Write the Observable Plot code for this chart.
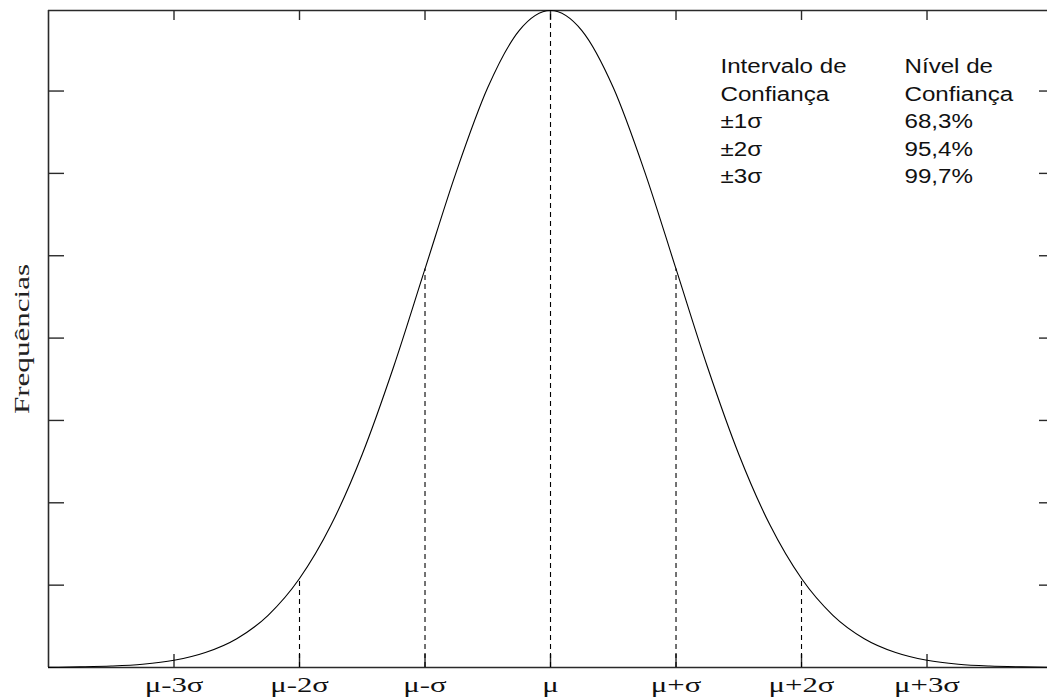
<!DOCTYPE html>
<html><head><meta charset="utf-8">
<script src="https://cdn.jsdelivr.net/npm/d3@7"></script>
<script src="https://cdn.jsdelivr.net/npm/@observablehq/plot@0.6"></script>
<style>html,body{margin:0;padding:0;background:#fff;overflow:hidden}</style>
</head><body><div id="chart"></div>
<script>
// Data (x in σ units from μ; y = frequency density)
const desvios = [-4, -3.75, -3.5, -3.25, -3, -2.75, -2.5, -2.25, -2, -1.75, -1.5, -1.25, -1, -0.75, -0.5, -0.25, 0,
                 0.25, 0.5, 0.75, 1, 1.25, 1.5, 1.75, 2, 2.25, 2.5, 2.75, 3, 3.25, 3.5, 3.75, 4];
const frequencias = [0.0001, 0.0004, 0.0009, 0.0020, 0.0044, 0.0091, 0.0175, 0.0317, 0.0540, 0.0863, 0.1295, 0.1826, 0.2420, 0.3011, 0.3521, 0.3867, 0.3989,
                     0.3867, 0.3521, 0.3011, 0.2420, 0.1826, 0.1295, 0.0863, 0.0540, 0.0317, 0.0175, 0.0091, 0.0044, 0.0020, 0.0009, 0.0004, 0.0001];
const xTicks = [-3, -2, -1, 0, 1, 2, 3];
const xTickLabels = ["μ-3σ", "μ-2σ", "μ-σ", "μ", "μ+σ", "μ+2σ", "μ+3σ"];
const yTicks = [0.05, 0.10, 0.15, 0.20, 0.25, 0.30, 0.35];
const linhasTracejadas = [-2, -1, 0, 1, 2];
const tituloY = "Frequências";
const cabecalhoIntervalo = ["Intervalo de", "Confiança"];
const cabecalhoNivel = ["Nível de", "Confiança"];
const intervalos = ["±1σ", "±2σ", "±3σ"];
const niveis = ["68,3%", "95,4%", "99,7%"];

const W = 1047, H = 700, mL = 48, mR = 0, mT = 10, mB = 33;
const frameW = W - mL - mR, frameH = H - mT - mB;
const yMax = d3.max(frequencias);
const pontos = desvios.map((x, i) => ({x, y: frequencias[i]}));
const alturaEm = (x) => frequencias[desvios.indexOf(x)];

const axisColor = "#2a2a2a";
const serif = "'Liberation Serif', 'Times New Roman', serif";
const sans = "'Liberation Sans', Arial, sans-serif";

const textoIntervalo = [...cabecalhoIntervalo, ...intervalos].join("\n");
const textoNivel = [...cabecalhoNivel, ...niveis].join("\n");

const svg = Plot.plot({
  width: W, height: H,
  marginLeft: mL, marginRight: mR, marginTop: mT, marginBottom: mB,
  style: {background: "#fff", overflow: "visible"},
  x: {domain: [-4, 3.96], axis: null},
  y: {domain: [0, yMax], axis: null},
  marks: [
    // frame lines
    Plot.ruleX([-4], {stroke: axisColor, strokeWidth: 1.6}),
    Plot.ruleY([0, yMax], {stroke: axisColor, strokeWidth: 1.6}),
    // inward ticks
    Plot.tickY(yTicks, {stroke: axisColor, strokeWidth: 1.4, insetRight: frameW - 16}),
    Plot.tickY(yTicks, {stroke: axisColor, strokeWidth: 1.4, insetLeft: frameW - 8}),
    Plot.tickX(xTicks, {stroke: axisColor, strokeWidth: 1.4, insetTop: frameH - 13}),
    Plot.tickX(xTicks, {stroke: axisColor, strokeWidth: 1.4, insetBottom: frameH - 10}),
    // dashed verticals
    Plot.ruleX(linhasTracejadas, {x: d => d, y1: 0, y2: d => alturaEm(d), stroke: "#000", strokeWidth: 1.1, strokeDasharray: "5,4"}),
    // normal curve
    Plot.line(pontos, {x: "x", y: "y", curve: "monotone-x", stroke: "#000", strokeWidth: 1.1}),
    // x tick labels
    Plot.axisX({ticks: xTicks, tickFormat: d => xTickLabels[xTicks.indexOf(d)], tickSize: 0, tickPadding: 9,
                fontSize: 22, fontFamily: serif, fill: "#111", label: null}),
    // y label
    Plot.text([tituloY], {frameAnchor: "left", dx: -26, rotate: -90, textAnchor: "middle", lineAnchor: "middle",
              fontSize: 21, fontFamily: serif, fill: "#222"}),
    // table
    Plot.text([textoIntervalo], {frameAnchor: "top-left", dx: 672, dy: 43, lineAnchor: "top",
              textAnchor: "start", lineHeight: 1.31, fontSize: 21, fontFamily: sans, fill: "#111"}),
    Plot.text([textoNivel], {frameAnchor: "top-left", dx: 856, dy: 43, lineAnchor: "top",
              textAnchor: "start", lineHeight: 1.31, fontSize: 21, fontFamily: sans, fill: "#111"})
  ]
});

const s = d3.select(svg);
function stretch(el, sx) {
  const t = el.getAttribute("transform") || "";
  const x = +el.getAttribute("x") || 0, y = +el.getAttribute("y") || 0;
  el.setAttribute("transform", `${t} translate(${x},${y}) scale(${sx},1) translate(${-x},${-y})`);
}
s.selectAll('g[aria-label="x-axis tick label"] text').each(function() { stretch(this, 1.4); });
s.selectAll("text").each(function() {
  const c = this.textContent;
  if (c === tituloY) stretch(this, 1.48);
  else if (c.startsWith("Intervalo") || c.startsWith("Nível")) stretch(this, 1.15);
});

document.getElementById("chart").appendChild(svg);
</script>
</body></html>
